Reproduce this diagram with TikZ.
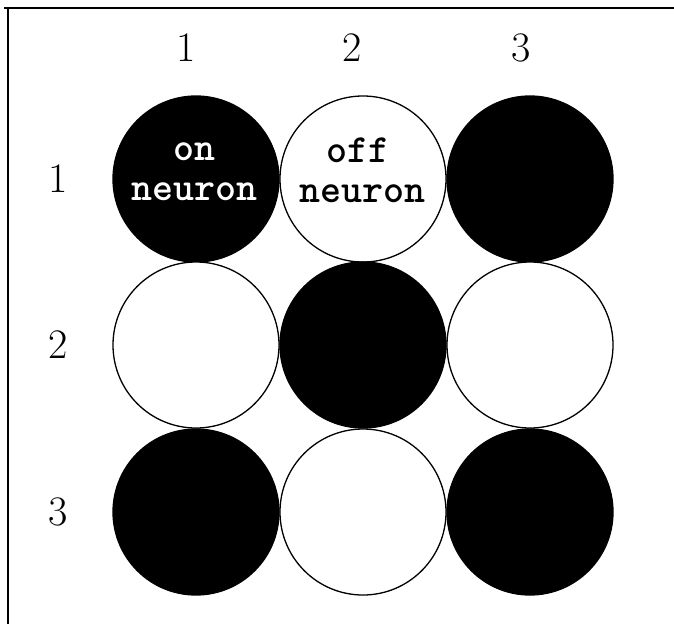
\documentclass[tikz,border=0pt]{standalone}
\begin{document}
\begin{tikzpicture}[x=1pt,y=-1pt,
  cell/.style={circle,minimum size=166pt,inner sep=0pt,line width=1.3pt},
  oncell/.style={cell,fill=black,draw=black},
  offcell/.style={cell,fill=white,draw=black},
  idx/.style={font=\fontsize{42}{42}\selectfont,inner sep=0pt},
  lbl/.style={font=\ttfamily\bfseries\fontsize{40}{40}\selectfont,align=center,inner sep=0pt},
  frame/.style={line width=1.5pt}]
\useasboundingbox (0,0) rectangle (674,624);
\coordinate (tl) at (4,8);
\coordinate (tr) at (674,8);
\coordinate (lt) at (8,8);
\coordinate (lb) at (8,624);
\draw[frame] (tl) -- (tr);
\draw[frame] (lt) -- (lb);
% column indices
\node[idx] (c1) at (186,48) {1};
\node[idx] (c2) at (352,48) {2};
\node[idx] (c3) at (521,48) {3};
% row indices
\node[idx] (r1) at (58,179) {1};
\node[idx] (r2) at (58,345) {2};
\node[idx] (r3) at (58,512) {3};
% neurons
\node[oncell]  (n11) at (196,179) {};
\node[offcell] (n12) at (363,179) {};
\node[oncell]  (n13) at (530,179) {};
\node[offcell] (n21) at (196,345) {};
\node[oncell]  (n22) at (363,345) {};
\node[offcell] (n23) at (530,345) {};
\node[oncell]  (n31) at (196,512) {};
\node[offcell] (n32) at (363,512) {};
\node[oncell]  (n33) at (530,512) {};
% labels
\node[lbl,text=white] (t1) at (194,172) {on\\neuron};
\node[lbl] (t2) at (362,170) {\hspace*{-0.2em}off\\neuron};
\end{tikzpicture}
\end{document}
